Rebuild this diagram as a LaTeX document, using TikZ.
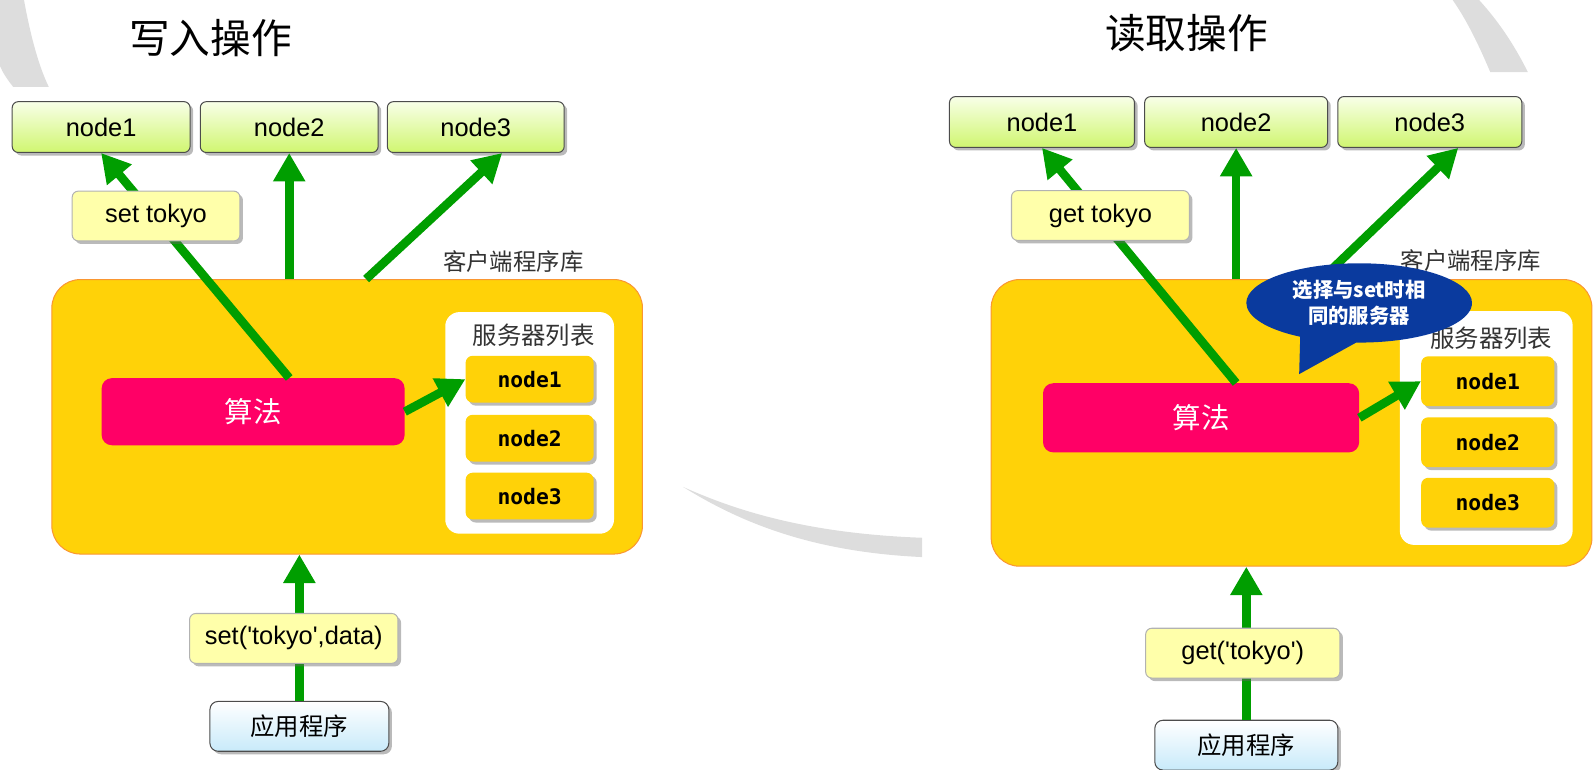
\documentclass[tikz,border=0pt]{standalone}
\usepackage{fontspec}
\setmainfont{Liberation Sans}
\newfontfamily\cjk{Noto Sans CJK SC}
\newfontfamily\srvfont{DejaVu Sans Mono}
\usetikzlibrary{arrows.meta, shadows, shapes.callouts, calc}
\definecolor{libgold}{RGB}{255,210,8}
\definecolor{liborange}{RGB}{250,150,50}
\definecolor{flowgreen}{RGB}{0,158,0}
\definecolor{algopink}{RGB}{255,0,102}
\definecolor{tipblue}{RGB}{10,58,158}
\definecolor{nodetop}{RGB}{248,255,232}
\definecolor{nodebot}{RGB}{208,246,112}
\definecolor{opyellow}{RGB}{255,255,170}
\definecolor{appblue}{RGB}{200,234,250}
\definecolor{bggray}{RGB}{221,221,221}

\begin{document}
\begin{tikzpicture}[x=1pt, y=-1pt,
    every node/.style={inner sep=0pt},
    boxshadow/.style={drop shadow={shadow xshift=3pt, shadow yshift=-3pt, fill=black!60, opacity=.45}},
    headline/.style={font=\cjk\fontsize{40pt}{40pt}\selectfont},
    caption/.style={font=\cjk\fontsize{23pt}{23pt}\selectfont, text=black!80},
    topbox/.style={draw=black!70, line width=1pt, rounded corners=6pt, top color=nodetop, bottom color=nodebot, minimum height=50pt, font=\fontsize{25pt}{25pt}\selectfont, boxshadow},
    opbox/.style={draw=black!30, line width=1pt, rounded corners=6pt, fill=opyellow, minimum height=49pt, font=\fontsize{25pt}{25pt}\selectfont, boxshadow},
    appbox/.style={draw=black!70, line width=1pt, rounded corners=8pt, top color=white, bottom color=appblue, minimum height=49pt, font=\cjk\fontsize{24pt}{24pt}\selectfont, boxshadow},
    libbox/.style={draw=liborange, line width=1pt, fill=libgold, rounded corners=28pt},
    listbox/.style={fill=white, rounded corners=14pt},
    srvbox/.style={fill=libgold, rounded corners=7pt, font=\srvfont\bfseries\fontsize{21pt}{21pt}\selectfont, boxshadow},
    algobox/.style={fill=algopink, rounded corners=10pt, text=white, font=\cjk\fontsize{28pt}{28pt}\selectfont},
    tipbox/.style={ellipse callout, fill=tipblue, text=white, align=center, minimum width=222pt, minimum height=78pt, callout pointer arc=30, font=\cjk\bfseries\fontsize{20pt}{25pt}\selectfont},
    flow/.style={draw=flowgreen, line width=8.5pt, -{Triangle[length=28pt, width=30pt]}}
]
    \useasboundingbox (0,0) rectangle (1570,757);

    \begin{scope}
        \fill[bggray] (0,0) -- (23.6,0) .. controls (30,35) and (38,65) .. (48,85.5) -- (13,85.5) .. controls (7,78) and (3,72) .. (0,65) -- cycle;
        \fill[bggray] (1429,0) -- (1455,0) .. controls (1475,22) and (1490,45) .. (1503,71) -- (1466,71) .. controls (1455,45) and (1443,20) .. (1429,0) -- cycle;
        \fill[bggray] (672,479) .. controls (730,505) and (800,525) .. (907,529) -- (907,548) .. controls (800,543) and (730,515) .. (672,479) -- cycle;
    \end{scope}

    \begin{scope}
        \node[headline] (wtitle) at (207,37) {写入操作};
        \node[topbox, minimum width=175pt] (wn1) at (99.5,125) {node1};
        \node[topbox, minimum width=175pt] (wn2) at (284.5,125) {node2};
        \node[topbox, minimum width=174pt] (wn3) at (468,125) {node3};
        \node[caption] (wlibname) at (505,257) {客户端程序库};
        \node[libbox, minimum width=581pt, minimum height=270pt] (wlib) at (341.5,410) {};
        \node[listbox, minimum width=166pt, minimum height=218pt] (wlist) at (521,416) {};
        \node[caption, font=\cjk\fontsize{24pt}{24pt}\selectfont] (wlistname) at (525,330) {服务器列表};
        \node[srvbox, minimum width=126pt, minimum height=46pt] (ws1) at (521,373) {node1};
        \node[srvbox, minimum width=126pt, minimum height=46pt] (ws2) at (521,431) {node2};
        \node[srvbox, minimum width=126pt, minimum height=46pt] (ws3) at (521,488) {node3};
        \node[algobox, minimum width=298pt, minimum height=66pt] (walgo) at (249,405) {算法};
        \node[appbox, minimum width=176pt] (wapp) at (294.5,714.5) {应用程序};

        \draw[flow] (walgo.north -| wn2.south) -- (wn1.south);
        \draw[flow] (wlib.north -| wn2.south) -- (wn2.south);
        \draw[flow] ($(wlib.north west)!.532!(wlib.north east)$) -- ($(wn3.south)+(26,0)$);
        \draw[flow] (walgo.east) -- (ws1.west);
        \draw[flow] (wapp.north) -- (wapp.north |- wlib.south);

        \node[opbox, minimum width=165pt] (wop) at (153.5,212.5) {set tokyo};
        \node[opbox, minimum width=205pt] (wcall) at (289,628) {set(\textquotesingle tokyo\textquotesingle,data)};
    \end{scope}

    \begin{scope}
        \node[headline] (rtitle) at (1167,33) {读取操作};
        \node[topbox, minimum width=182pt] (rn1) at (1025,120) {node1};
        \node[topbox, minimum width=180pt] (rn2) at (1216,120) {node2};
        \node[topbox, minimum width=181pt] (rn3) at (1406.5,120) {node3};
        \node[caption] (rlibname) at (1447,256) {客户端程序库};
        \node[libbox, minimum width=591pt, minimum height=282pt] (rlib) at (1270.5,416) {};
        \node[listbox, minimum width=170pt, minimum height=230pt] (rlist) at (1462,421) {};
        \node[caption, font=\cjk\fontsize{24pt}{24pt}\selectfont] (rlistname) at (1467,333) {服务器列表};
        \node[srvbox, minimum width=131pt, minimum height=49pt] (rs1) at (1463.5,375) {node1};
        \node[srvbox, minimum width=131pt, minimum height=49pt] (rs2) at (1463.5,435) {node2};
        \node[srvbox, minimum width=131pt, minimum height=49pt] (rs3) at (1463.5,494.5) {node3};
        \node[algobox, minimum width=311pt, minimum height=68pt] (ralgo) at (1181.5,411) {算法};
        \node[appbox, minimum width=180pt] (rapp) at (1226,733) {应用程序};

        \draw[flow] (ralgo.north -| rn2.south) -- (rn1.south);
        \draw[flow] (rlib.north -| rn2.south) -- (rn2.south);
        \draw[flow] ($(rlib.north west)!.55!(rlib.north east)$) -- ($(rn3.south)+(28,0)$);
        \draw[flow] (ralgo.east) -- (rs1.west);
        \draw[flow] (rapp.north) -- (rapp.north |- rlib.south);

        \node[opbox, minimum width=175pt] (rop) at (1082.5,212) {get tokyo};
        \node[opbox, minimum width=191pt] (rcall) at (1222.5,642.5) {get(\textquotesingle tokyo\textquotesingle)};
        \node[tipbox, callout absolute pointer={(1278,368)}] (rtip) at (1337,298) {选择与set时相\\同的服务器};
    \end{scope}
\end{tikzpicture}
\end{document}
